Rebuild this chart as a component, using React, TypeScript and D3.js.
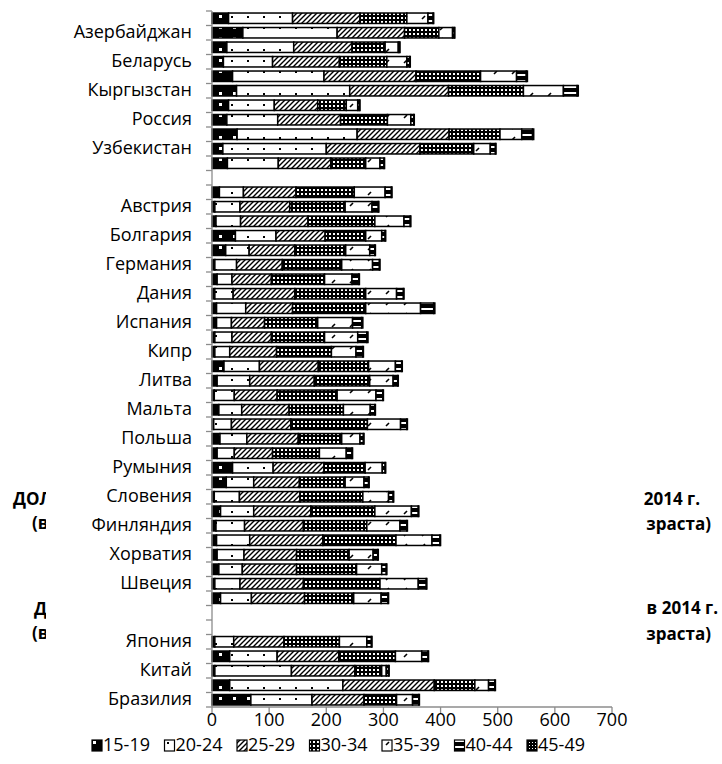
import React from "react";
import * as d3 from "d3";

// Categories listed top to bottom as drawn
const countries = [
  "СНГ", "Азербайджан", "Армения", "Беларусь", "Казахстан", "Кыргызстан", "Молдова", "Россия", "Таджикистан", "Узбекистан", "Украина",
  "",
  "ЕС-28", "Австрия", "Бельгия", "Болгария", "Венгрия", "Германия", "Греция", "Дания", "Ирландия", "Испания", "Италия", "Кипр", "Латвия", "Литва",
  "Люксембург", "Мальта", "Нидерланды", "Польша", "Португалия", "Румыния", "Словакия", "Словения", "Соединенное Королевство", "Финляндия",
  "Франция", "Хорватия", "Чехия", "Швеция", "Эстония",
  "", "",
  "Япония", "США", "Китай", "Индия", "Бразилия",
];

const s15_19 = [29, 54, 26, 20, 36, 43, 29, 26, 44, 19, 27, 0, 13, 5, 7, 41, 24, 5, 9, 5, 8, 8, 5, 5, 21, 9, 4, 12, 3, 14, 9, 36, 25, 4, 15, 7, 8, 9, 12, 5, 15, 0, 0, 5, 31, 5, 31, 68];
const s20_24 = [112, 165, 117, 86, 160, 198, 80, 89, 210, 181, 89, 0, 42, 44, 43, 71, 41, 38, 26, 32, 51, 26, 30, 26, 62, 57, 35, 40, 31, 47, 30, 71, 48, 44, 58, 50, 58, 47, 41, 44, 54, 0, 0, 33, 83, 134, 198, 107];
const s25_29 = [118, 118, 102, 117, 161, 173, 76, 110, 161, 164, 92, 0, 92, 87, 118, 86, 80, 80, 69, 108, 82, 58, 69, 82, 103, 113, 75, 83, 104, 90, 67, 89, 80, 106, 100, 103, 128, 92, 95, 111, 93, 0, 0, 88, 108, 111, 160, 91];
const s30_34 = [82, 60, 58, 83, 113, 131, 50, 82, 89, 94, 61, 0, 102, 97, 117, 71, 89, 104, 93, 124, 128, 93, 93, 96, 88, 97, 105, 95, 134, 76, 82, 72, 80, 110, 112, 111, 128, 92, 105, 134, 86, 0, 0, 97, 99, 47, 71, 57];
const s35_39 = [37, 24, 23, 35, 63, 70, 20, 41, 38, 29, 25, 0, 54, 47, 51, 28, 42, 54, 48, 54, 96, 61, 58, 43, 47, 41, 68, 47, 58, 32, 47, 30, 33, 45, 64, 58, 63, 42, 44, 67, 48, 0, 0, 48, 46, 8, 24, 28];
const s40_44 = [9, 3, 2, 5, 17, 24, 3, 5, 19, 9, 7, 0, 11, 11, 11, 6, 9, 12, 12, 12, 23, 16, 16, 12, 11, 8, 12, 8, 11, 6, 10, 5, 8, 8, 12, 12, 14, 8, 8, 14, 12, 0, 0, 8, 11, 4, 11, 11];
const s45_49 = [1, 1, 1, 1, 2, 2, 1, 1, 2, 1, 1, 0, 1, 1, 1, 1, 1, 1, 1, 1, 2, 2, 2, 1, 1, 1, 1, 1, 1, 1, 1, 1, 1, 1, 1, 1, 1, 1, 1, 1, 1, 0, 0, 1, 1, 1, 1, 1];

const ageGroups = ["15-19", "20-24", "25-29", "30-34", "35-39", "40-44", "45-49"];
const xTicks = [0, 100, 200, 300, 400, 500, 600, 700];

const FONT = "'Open Sans', 'Noto Sans', 'DejaVu Sans', sans-serif";
const AXIS = "#8c8c8c";

export default function App() {
  const W = 722;
  const H = 764;
  const x = d3.scaleLinear().domain([0, 700]).range([212, 612]);
  const keys = countries.map((_, i) => String(i));
  const y = d3.scaleBand<string>().domain(keys).range([11, 707]).paddingInner(0.28).paddingOuter(0.14);
  const step = y.step();

  const allSeries = [s15_19, s20_24, s25_29, s30_34, s35_39, s40_44, s45_49];
  const table = countries.map((c, i) => {
    const row: Record<string, number | string> = { key: String(i), name: c };
    ageGroups.forEach((g, k) => (row[g] = allSeries[k][i]));
    return row;
  });
  const stacked = d3.stack<any>().keys(ageGroups)(table as any);

  const legendStart = 92;
  const legendStep = 72.5;

  return (
    <svg width={W} height={H} style={{ position: "absolute", left: 0, top: 0 }} fontFamily={FONT}>
      <defs>
        <pattern id="p0" width={14} height={11} patternUnits="userSpaceOnUse">
          <rect width={14} height={11} fill="#000" />
          <rect x={9} y={4} width={3} height={3} fill="#fff" />
        </pattern>
        <pattern id="p1" width={16} height={11} patternUnits="userSpaceOnUse">
          <rect width={16} height={11} fill="#fff" />
          <rect x={7} y={5} width={2} height={2} fill="#000" />
        </pattern>
        <pattern id="p2" width={5} height={5} patternUnits="userSpaceOnUse">
          <rect width={5} height={5} fill="#fff" />
          <path d="M0,5 L5,0 M-1,1 L1,-1 M4,6 L6,4" stroke="#000" strokeWidth={1.4} />
        </pattern>
        <pattern id="p3" width={4} height={4} patternUnits="userSpaceOnUse">
          <rect width={4} height={4} fill="#000" />
          <rect x={1} y={1} width={2} height={2} fill="#fff" />
        </pattern>
        <pattern id="p4" width={18} height={11} patternUnits="userSpaceOnUse">
          <rect width={18} height={11} fill="#fff" />
          <path d="M8,8 L11,5" stroke="#000" strokeWidth={1.6} />
        </pattern>
        <pattern id="p5" width={6} height={6} patternUnits="userSpaceOnUse">
          <rect width={6} height={6} fill="#000" />
          <rect x={0} y={2} width={6} height={2} fill="#fff" />
        </pattern>
        <pattern id="p6" width={3} height={3} patternUnits="userSpaceOnUse">
          <rect width={3} height={3} fill="#000" />
          <rect x={1} y={1} width={1} height={1} fill="#fff" />
        </pattern>
      </defs>

      <rect width={W} height={H} fill="#fff" />

      {/* titles of underlying charts, mostly hidden behind this chart */}
      <g fontWeight="bold" fontSize={17} fill="#000" dominantBaseline="middle">
        <text x={13} y={500}>ДОЛЯ</text>
        <text x={32} y={524}>(в</text>
        <text x={700} y={500} textAnchor="end">2014 г.</text>
        <text x={711} y={525} textAnchor="end">зраста)</text>
        <text x={34} y={610}>ДО</text>
        <text x={32} y={634}>(в</text>
        <text x={718} y={609} textAnchor="end">в 2014 г.</text>
        <text x={711} y={635} textAnchor="end">зраста)</text>
      </g>
      <rect x={46} y={0} width={596} height={H} fill="#fff" />

      {/* bars */}
      {stacked.map((layer, k) => (
        <g key={layer.key}>
          {layer.map((d, i) => {
            const v = d[1] - d[0];
            if (v <= 0) return null;
            return (
              <rect
                key={i}
                x={x(d[0])}
                y={y(keys[i])}
                width={x(d[1]) - x(d[0])}
                height={y.bandwidth()}
                fill={`url(#p${k})`}
                stroke="#000"
                strokeWidth={1.5}
              />
            );
          })}
        </g>
      ))}

      {/* vertical axis */}
      <line x1={212} x2={212} y1={11} y2={707} stroke={AXIS} strokeWidth={1.3} />
      {d3.range(countries.length + 1).map((k) => (
        <line key={k} x1={206} x2={212} y1={11 + k * step} y2={11 + k * step} stroke={AXIS} strokeWidth={1.3} />
      ))}
      <g fontSize={18} fill="#000" textAnchor="end" dominantBaseline="middle">
        {countries.map((c, i) =>
          i % 2 === 1 && c ? (
            <text key={i} x={192} y={(y(keys[i]) as number) + y.bandwidth() / 2}>
              {c}
            </text>
          ) : null
        )}
      </g>

      {/* horizontal axis */}
      <line x1={212} x2={612} y1={707} y2={707} stroke={AXIS} strokeWidth={1.3} />
      {xTicks.map((t) => (
        <g key={t}>
          <line x1={x(t)} x2={x(t)} y1={707} y2={713} stroke={AXIS} strokeWidth={1.3} />
          <text x={x(t)} y={721} fontSize={18} textAnchor="middle" dominantBaseline="middle">
            {t}
          </text>
        </g>
      ))}

      {/* legend */}
      {ageGroups.map((g, k) => {
        const lx = legendStart + k * legendStep;
        return (
          <g key={g}>
            <rect x={lx} y={740} width={10} height={11} fill={`url(#p${k})`} stroke="#000" strokeWidth={1.2} />
            <text x={lx + 11} y={746} fontSize={18} dominantBaseline="middle">
              {g}
            </text>
          </g>
        );
      })}
    </svg>
  );
}
